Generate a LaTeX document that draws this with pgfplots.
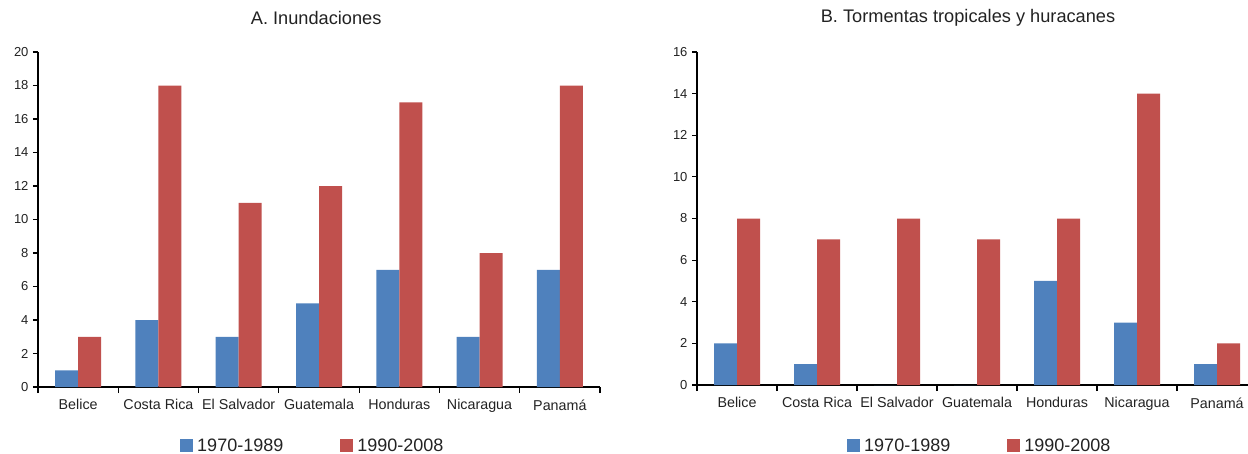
\documentclass[border=0pt]{standalone}
\usepackage{fontspec}
\setmainfont{Liberation Sans}
\usepackage{pgfplots}
\pgfplotsset{compat=1.18}
\definecolor{serA}{HTML}{4F81BD}
\definecolor{serB}{HTML}{C0504D}
\definecolor{txt}{HTML}{222222}

\pgfplotsset{
  panel/.style={
    scale only axis, anchor=south west,
    ybar=0pt, bar width=23pt,
    xmin=0, xmax=7, ymin=0,
    axis x line*=bottom, axis y line*=left,
    axis line style={line width=1.6pt, black, -},
    xtick={0.5,1.5,...,6.5},
    xticklabels={Belice,Costa Rica,El Salvador,Guatemala,Honduras,Nicaragua,Panamá},
    minor xtick={0,1,...,7},
    major x tick style={draw=none},
    tick align=outside,
    major tick length=5pt, minor tick length=6pt,
    every tick/.style={black, line width=1.2pt},
    xticklabel style={font=\fontsize{14.3}{16}\selectfont, text=txt, yshift=-4pt},
    yticklabel style={font=\fontsize{13}{14}\selectfont, text=txt, xshift=-1pt},
    /pgf/number format/assume math mode=true,
    title style={font=\fontsize{18.2}{20}\selectfont, text=txt, anchor=center, yshift=28pt},
    legend columns=2,
    legend style={draw=none, fill=none, anchor=center,
      font=\fontsize{18}{20}\selectfont, text=txt,
      /tikz/every even column/.append style={column sep=55pt},
      /tikz/every odd column/.append style={column sep=2pt}},
    legend image code/.code={\fill[##1,draw=none] (0pt,-6.5pt) rectangle (13pt,6.5pt);},
  }
}

\begin{document}
\begin{tikzpicture}
\useasboundingbox (0pt,0pt) rectangle (1248pt,-453pt);

\begin{axis}[panel,
  at={(38pt,-387pt)}, width=562pt, height=335pt,
  ymax=20, ytick={0,2,...,20},
  title={A. Inundaciones}, title style={at={(0.495,1)}},
  legend style={at={(0.489,-0.176)}},
]
\addplot[fill=serA, draw=none] coordinates {(0.5,1) (1.5,4) (2.5,3) (3.5,5) (4.5,7) (5.5,3) (6.5,7)};
\addplot[fill=serB, draw=none] coordinates {(0.5,3) (1.5,18) (2.5,11) (3.5,12) (4.5,17) (5.5,8) (6.5,18)};
\legend{1970-1989,1990-2008}
\end{axis}

\begin{axis}[panel,
  at={(697pt,-385pt)}, width=560pt, height=333pt,
  ymax=16, ytick={0,2,...,16},
  title={B. Tormentas tropicales y huracanes}, title style={at={(0.484,1)}},
  legend style={at={(0.505,-0.183)}},
]
\addplot[fill=serA, draw=none] coordinates {(0.5,2) (1.5,1) (2.5,0) (3.5,0) (4.5,5) (5.5,3) (6.5,1)};
\addplot[fill=serB, draw=none] coordinates {(0.5,8) (1.5,7) (2.5,8) (3.5,7) (4.5,8) (5.5,14) (6.5,2)};
\legend{1970-1989,1990-2008}
\end{axis}
\end{tikzpicture}
\end{document}
